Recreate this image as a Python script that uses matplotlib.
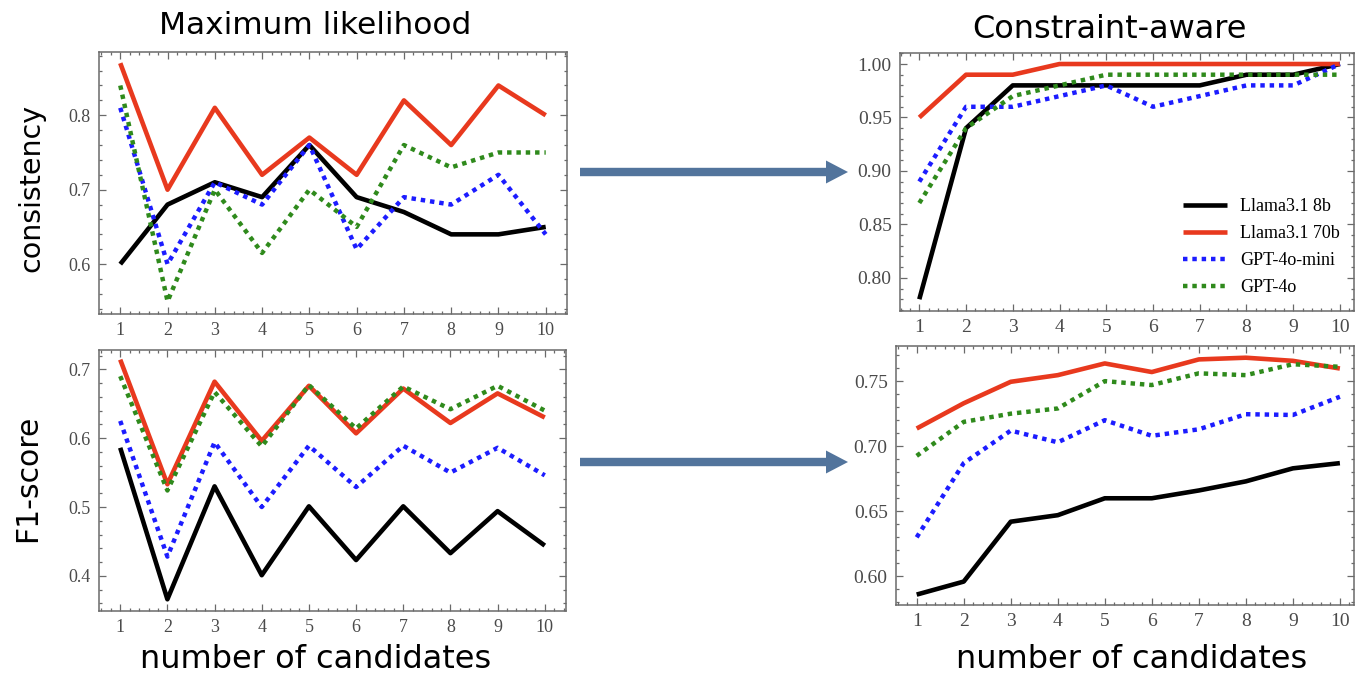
import matplotlib
matplotlib.use("Agg")
import matplotlib.pyplot as plt
from matplotlib.ticker import MultipleLocator, FormatStrFormatter
from matplotlib.patches import Polygon

# ---------------- data ----------------
candidates = [1, 2, 3, 4, 5, 6, 7, 8, 9, 10]
models = ["Llama3.1 8b", "Llama3.1 70b", "GPT-4o-mini", "GPT-4o"]

# Maximum likelihood - consistency
ml_cons_llama8b = [0.60, 0.68, 0.71, 0.69, 0.76, 0.69, 0.67, 0.64, 0.64, 0.65]
ml_cons_llama70b = [0.87, 0.70, 0.81, 0.72, 0.77, 0.72, 0.82, 0.76, 0.84, 0.80]
ml_cons_gpt4omini = [0.81, 0.60, 0.71, 0.68, 0.76, 0.62, 0.69, 0.68, 0.72, 0.64]
ml_cons_gpt4o = [0.84, 0.55, 0.70, 0.615, 0.70, 0.65, 0.76, 0.73, 0.75, 0.75]

# Maximum likelihood - F1
ml_f1_llama8b = [0.586, 0.366, 0.530, 0.401, 0.501, 0.423, 0.501, 0.433, 0.494, 0.444]
ml_f1_llama70b = [0.714, 0.533, 0.682, 0.596, 0.676, 0.607, 0.672, 0.622, 0.665, 0.630]
ml_f1_gpt4omini = [0.625, 0.428, 0.594, 0.500, 0.589, 0.529, 0.589, 0.550, 0.586, 0.546]
ml_f1_gpt4o = [0.690, 0.524, 0.667, 0.588, 0.677, 0.614, 0.675, 0.642, 0.676, 0.640]

# Constraint-aware - consistency
ca_cons_llama8b = [0.78, 0.94, 0.98, 0.98, 0.98, 0.98, 0.98, 0.99, 0.99, 1.00]
ca_cons_llama70b = [0.95, 0.99, 0.99, 1.00, 1.00, 1.00, 1.00, 1.00, 1.00, 1.00]
ca_cons_gpt4omini = [0.89, 0.96, 0.96, 0.97, 0.98, 0.96, 0.97, 0.98, 0.98, 1.00]
ca_cons_gpt4o = [0.87, 0.94, 0.97, 0.98, 0.99, 0.99, 0.99, 0.99, 0.99, 0.99]

# Constraint-aware - F1
ca_f1_llama8b = [0.586, 0.596, 0.642, 0.647, 0.660, 0.660, 0.666, 0.673, 0.683, 0.687]
ca_f1_llama70b = [0.7136, 0.733, 0.7495, 0.7546, 0.7636, 0.757, 0.7667, 0.768, 0.7656, 0.7597]
ca_f1_gpt4omini = [0.630, 0.687, 0.712, 0.703, 0.720, 0.708, 0.713, 0.7246, 0.724, 0.738]
ca_f1_gpt4o = [0.6926, 0.7187, 0.725, 0.729, 0.750, 0.747, 0.756, 0.7546, 0.763, 0.761]

# ---------------- style ----------------
W, H = 1355, 673
DPI = 100
fig = plt.figure(figsize=(W / DPI, H / DPI), dpi=DPI)
fig.patch.set_facecolor("white")

colors = ["#000000", "#e8391e", "#1c1cff", "#2f8a1c"]
styles = ["-", "-", (0, (1, 1.1)), (0, (1, 1.1))]
lws = [3.3, 3.3, 3.2, 3.2]
frame_col = "#6a6a6a"
tick_col = "#4a4a4a"
serif = ["Liberation Serif", "DejaVu Serif"]
sans = ["DejaVu Sans"]


def px_axes(left, top, right, bottom):
    return fig.add_axes([left / W, 1 - bottom / H, (right - left) / W, (bottom - top) / H])


def style_axes(ax, xlim, ylim, ymaj, ymin, fmt, fs):
    ax.set_xlim(*xlim)
    ax.set_ylim(*ylim)
    ax.xaxis.set_major_locator(MultipleLocator(1))
    ax.xaxis.set_minor_locator(MultipleLocator(0.2))
    ax.yaxis.set_major_locator(MultipleLocator(ymaj))
    ax.yaxis.set_minor_locator(MultipleLocator(ymin))
    ax.yaxis.set_major_formatter(FormatStrFormatter(fmt))
    for s in ax.spines.values():
        s.set_color(frame_col)
        s.set_linewidth(1.1)
    ax.tick_params(which="both", direction="in", top=True, right=True,
                   color=frame_col, width=0.9)
    ax.tick_params(which="major", length=5, labelsize=fs, labelcolor=tick_col)
    ax.tick_params(which="minor", length=2.5)
    ax.tick_params(axis="x", which="major", pad=6)
    ax.tick_params(axis="y", which="major", pad=6)
    for lab in ax.get_xticklabels() + ax.get_yticklabels():
        lab.set_fontfamily(serif)


def draw(ax, series):
    for vals, c, ls, lw, name in zip(series, colors, styles, lws, models):
        ax.plot(candidates, vals, color=c, linestyle=ls, linewidth=lw, label=name,
                solid_capstyle="butt", dash_capstyle="butt")


# top-left
ax1 = px_axes(99, 52, 567, 314)
draw(ax1, [ml_cons_llama8b, ml_cons_llama70b, ml_cons_gpt4omini, ml_cons_gpt4o])
style_axes(ax1, (0.55, 10.45), (0.533, 0.885), 0.1, 0.02, "%.1f", 13)

# bottom-left
ax2 = px_axes(99, 350, 566, 611)
draw(ax2, [ml_f1_llama8b, ml_f1_llama70b, ml_f1_gpt4omini, ml_f1_gpt4o])
style_axes(ax2, (0.55, 10.45), (0.349, 0.728), 0.1, 0.02, "%.1f", 13)

# top-right
ax3 = px_axes(900, 53, 1354, 311)
draw(ax3, [ca_cons_llama8b, ca_cons_llama70b, ca_cons_gpt4omini, ca_cons_gpt4o])
style_axes(ax3, (0.587, 10.3), (0.769, 1.0103), 0.05, 0.01, "%.2f", 14)
leg = ax3.legend(loc="lower right", frameon=False, prop={"family": serif, "size": 13},
                 handlelength=2.4, handletextpad=0.75, labelspacing=0.55,
                 bbox_to_anchor=(1.005, -0.005))

# bottom-right
ax4 = px_axes(896, 346, 1354, 605)
draw(ax4, [ca_f1_llama8b, ca_f1_llama70b, ca_f1_gpt4omini, ca_f1_gpt4o])
style_axes(ax4, (0.56, 10.3), (0.578, 0.777), 0.05, 0.01, "%.2f", 14)

# ---------------- texts ----------------
def ftext(x, y, s, **kw):
    fig.text(x / W, 1 - y / H, s, family=sans, color="black", **kw)

ftext(315, 34, "Maximum likelihood", size=22.5, ha="center", va="baseline")
ftext(1109, 38, "Constraint-aware", size=23, ha="center", va="baseline")
ftext(316, 668, "number of candidates", size=23, ha="center", va="baseline")
ftext(1132, 668, "number of candidates", size=23, ha="center", va="baseline")
ftext(31, 188, "consistency", size=20.5, ha="center", va="center", rotation=90)
ftext(28, 478, "F1-score", size=21.5, ha="center", va="center", rotation=90)

# ---------------- arrows ----------------
arrow_col = "#52749c"
for yc in (172, 462):
    x0, xh, x1 = 580, 826, 848
    ht, hh = 4.2, 11.5
    pts = [(x0, yc - ht), (xh, yc - ht), (xh, yc - hh), (x1, yc),
           (xh, yc + hh), (xh, yc + ht), (x0, yc + ht)]
    pts = [(px / W, 1 - py / H) for px, py in pts]
    fig.add_artist(Polygon(pts, closed=True, transform=fig.transFigure,
                           facecolor=arrow_col, edgecolor="none"))

fig.savefig("out.png", dpi=DPI)
